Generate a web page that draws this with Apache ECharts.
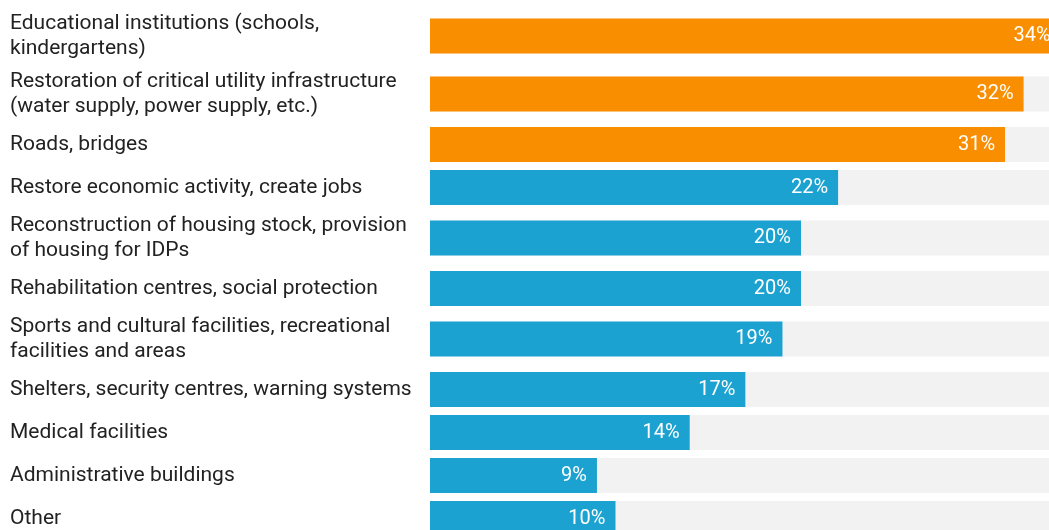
<!DOCTYPE html>
<html>
<head>
<meta charset="utf-8">
<script src="https://cdn.jsdelivr.net/npm/echarts@6/dist/echarts.min.js"></script>
<style>
  html, body { margin: 0; padding: 0; background: #ffffff; }
  #chart { width: 1049px; height: 530px; }
</style>
</head>
<body>
<div id="chart"></div>
<script>
// Priority areas for reconstruction, share of respondents (%)
const categories = [
  'Educational institutions (schools,\nkindergartens)',
  'Restoration of critical utility infrastructure\n(water supply, power supply, etc.)',
  'Roads, bridges',
  'Restore economic activity, create jobs',
  'Reconstruction of housing stock, provision\nof housing for IDPs',
  'Rehabilitation centres, social protection',
  'Sports and cultural facilities, recreational\nfacilities and areas',
  'Shelters, security centres, warning systems',
  'Medical facilities',
  'Administrative buildings',
  'Other'
];
const shares = [34, 32, 31, 22, 20, 20, 19, 17, 14, 9, 10];

// The three leading answers are drawn in orange, the rest in blue
const TOP_COUNT = 3;
const ORANGE = '#F98E00';
const BLUE = '#1CA2D0';
const TRACK = '#F2F2F2';
const X_MAX = 40;
const BAR_THICKNESS = 35;

// Rows with a wrapped label get more vertical room than single-line rows
const rowHeights = categories.map(c => 28 + 15 * c.split('\n').length);
const rowCenters = [];
let acc = 0;
rowHeights.forEach(h => { rowCenters.push(acc + h / 2); acc += h; });
const totalHeight = acc;

function labelAt(v) {
  let best = 0;
  rowCenters.forEach((c, i) => { if (Math.abs(c - v) < Math.abs(rowCenters[best] - v)) best = i; });
  return categories[best];
}

const chart = echarts.init(document.getElementById('chart'), null, { renderer: 'canvas' });

chart.setOption({
  animation: false,
  backgroundColor: '#ffffff',
  grid: {
    left: 430,
    top: 7,
    width: 742,
    height: totalHeight,
    containLabel: false,
    outerBoundsMode: 'none'
  },
  xAxis: {
    type: 'value',
    min: 0,
    max: X_MAX,
    show: false
  },
  yAxis: {
    type: 'value',
    inverse: true,
    min: 0,
    max: totalHeight,
    axisLine: { show: false },
    axisTick: { show: false },
    splitLine: { show: false },
    axisLabel: {
      customValues: rowCenters,
      formatter: v => labelAt(v),
      align: 'left',
      margin: 420,
      color: '#222222',
      fontSize: 21,
      lineHeight: 25,
      fontFamily: 'Roboto'
    }
  },
  series: [{
    type: 'custom',
    clip: false,
    data: shares.map((v, i) => [v, rowCenters[i], i]),
    encode: { x: 0, y: 1 },
    renderItem: function (params, api) {
      const v = api.value(0);
      const y = api.value(1);
      const idx = api.value(2);
      const start = api.coord([0, y]);
      const end = api.coord([v, y]);
      const full = api.coord([X_MAX, y]);
      const h = BAR_THICKNESS;
      return {
        type: 'group',
        children: [
          {
            type: 'rect',
            shape: { x: start[0], y: start[1] - h / 2, width: full[0] - start[0], height: h },
            style: { fill: TRACK }
          },
          {
            type: 'rect',
            shape: { x: start[0], y: start[1] - h / 2, width: end[0] - start[0], height: h },
            style: { fill: idx < TOP_COUNT ? ORANGE : BLUE }
          },
          {
            type: 'text',
            x: end[0] - 10,
            y: end[1],
            style: {
              text: v + '%',
              fill: '#ffffff',
              font: '20px Roboto',
              align: 'right',
              verticalAlign: 'middle'
            }
          }
        ]
      };
    }
  }]
});
</script>
</body>
</html>
